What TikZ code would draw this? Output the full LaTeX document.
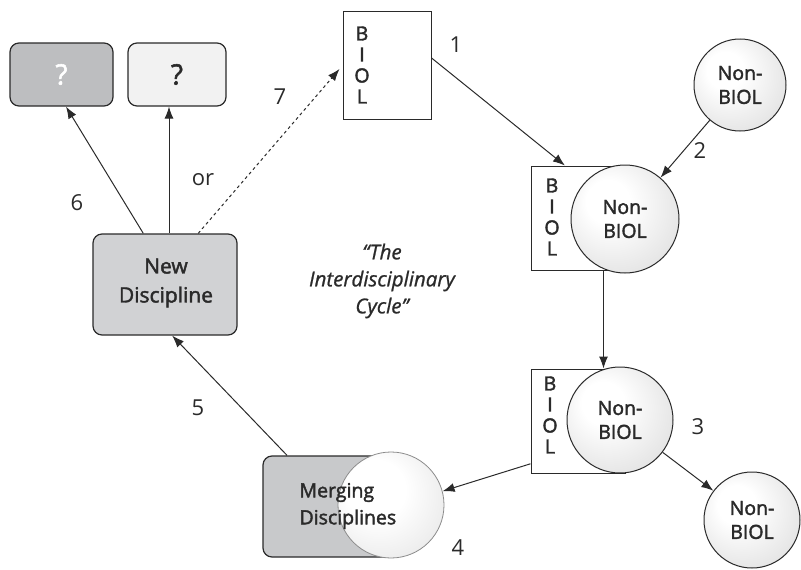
\documentclass[tikz,border=0pt]{standalone}
\usepackage{fontspec}
\setmainfont{Open Sans}
\newfontfamily\medfont{Open Sans}[FakeBold=2,Ligatures=TeX]
\newfontfamily\meditfont{Open Sans Italic}[FakeBold=1,Ligatures=TeX]
\usetikzlibrary{arrows.meta,calc}
\definecolor{qdarkfill}{HTML}{BDBEC0}
\definecolor{qlightfill}{HTML}{F2F2F2}
\definecolor{ndfill}{HTML}{D1D2D4}
\definecolor{mfill}{HTML}{C8C9CB}
\definecolor{edge}{HTML}{2A2A2A}
\pgfdeclareradialshading{lightball}{\pgfpoint{-10bp}{10bp}}{%
  color(0bp)=(white); color(10bp)=(white); color(30bp)=(black!10); color(45bp)=(black!22); color(50bp)=(black!22)}
\pgfdeclareradialshading{mergeball}{\pgfpoint{-10bp}{10bp}}{%
  color(0bp)=(white); color(14bp)=(white); color(32bp)=(black!8); color(45bp)=(black!18); color(50bp)=(black!18)}
\begin{document}
\begin{tikzpicture}[x=1pt,y=-1pt,
  rbox/.style={draw=edge,line width=1.2pt,rounded corners=9pt,inner sep=0pt},
  sqbox/.style={draw=edge,line width=1pt,fill=white,inner sep=0pt},
  ball/.style={circle,draw=edge,line width=1pt,inner sep=0pt,shading=lightball,
     font=\medfont\fontsize{19.5}{24}\selectfont,align=center,text=edge},
  letters/.style={font=\medfont\fontsize{19.5}{21}\selectfont,align=center,text=edge},
  lbl/.style={font=\fontsize{22}{24}\selectfont,text=edge},
  arr/.style={draw=edge,line width=1pt,-{Latex[length=12pt,width=9pt]}},
  txt/.style={font=\medfont\fontsize{19.5}{27}\selectfont,text=edge,align=center}
]
\useasboundingbox (0,0) rectangle (801,570);

% top boxes
\node[rbox,fill=qdarkfill,minimum width=103pt,minimum height=63pt,text=white,font=\medfont\fontsize{28}{30}\selectfont] (q1) at (61.5,74.5) {?};
\node[rbox,fill=qlightfill,minimum width=98pt,minimum height=63pt,text=edge,font=\medfont\fontsize{28}{30}\selectfont] (q2) at (177,74.5) {?};

% BIOL box top
\node[sqbox,minimum width=88pt,minimum height=108pt] (b1) at (387,65) {};
\node[letters] (b1t) at (362,65) {B\\I\\O\\L};

% Non-BIOL top right
\node[ball,minimum size=92pt] (c1) at (740,85) {Non-\\BIOL};

% group 2
\node[sqbox,minimum width=94pt,minimum height=104pt] (r2) at (578,218) {};
\node[letters] (r2t) at (552,217) {B\\I\\O\\L};
\node[ball,minimum size=108pt] (c2) at (625,219) {Non-\\BIOL};

% group 3
\node[sqbox,minimum width=94pt,minimum height=104pt] (r3) at (578,421) {};
\node[letters] (r3t) at (550,415) {B\\I\\O\\L};
\node[ball,minimum size=106pt] (c3) at (620,420) {Non-\\BIOL};

% circle 4
\node[ball,minimum size=96pt] (c4) at (752,520) {Non-\\BIOL};

% merging
\node[rbox,fill=mfill,minimum width=137pt,minimum height=101pt] (m) at (331.5,506.5) {};
\node[circle,draw=black!45,line width=0.8pt,inner sep=0pt,minimum size=106pt,shading=mergeball] (mc) at (391,505) {};
\node[txt,align=left,anchor=west] (mt) at (296,506) {Merging\\Disciplines};

% new discipline
\node[rbox,fill=ndfill,minimum width=144pt,minimum height=101pt] (nd) at (165,284.5) {};
\node[txt,font=\medfont\fontsize{21}{29}\selectfont] (ndt) at (166,283) {New\\Discipline};

% title
\node[font=\meditfont\fontsize{20.5}{27}\selectfont,align=center,text=edge] (title) at (382,281) {“The\\Interdisciplinary\\Cycle”};

% arrows
\draw[arr] (b1.9) -- (r2.104);
\draw[arr] (c1) -- (c2);
\draw[arr] ([xshift=-22pt]r2.south east) -- ([xshift=-22pt]r3.north east);
\draw[arr] (c3) -- (c4);
\draw[arr] (r3.222) -- (mc.15);
\draw[arr] (m.131) -- (nd.278);
\draw[arr] (nd.113.5) -- (q1.278);
\draw[arr] ([xshift=4pt]nd.north) -- ([xshift=4pt]nd.north |- q2.south);
\draw[arr,dashed] (nd.57.6) -- ([yshift=-4pt,xshift=-3pt]b1.west);

% labels
\node[lbl] (l1) at (456,45) {1};
\node[lbl] (l2) at (700,151) {2};
\node[lbl] (l3) at (698,427) {3};
\node[lbl] (l4) at (458,548) {4};
\node[lbl] (l5) at (198,408) {5};
\node[lbl] (l6) at (77,203) {6};
\node[lbl] (lor) at (203,180) {or};
\node[lbl] (l7) at (280,97) {7};
\end{tikzpicture}
\end{document}
